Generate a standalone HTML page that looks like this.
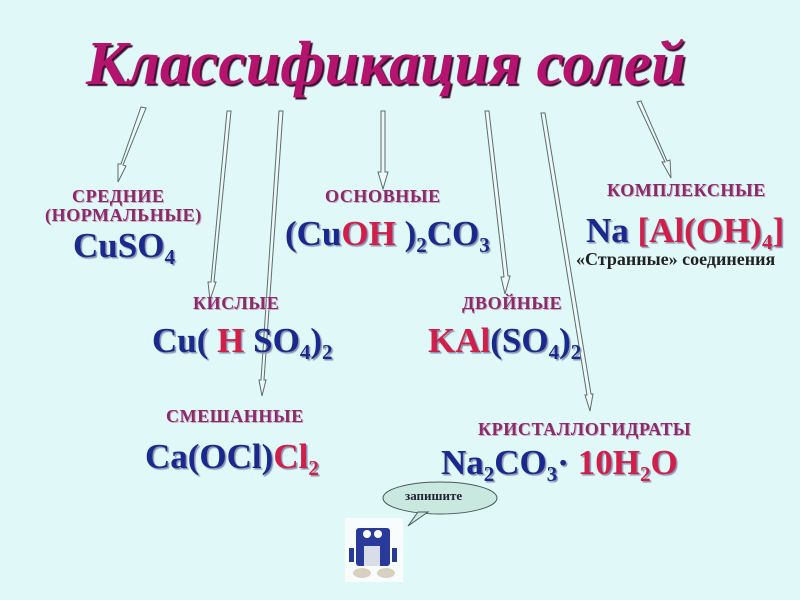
<!DOCTYPE html>
<html><head><meta charset="utf-8"><style>
body{margin:0;width:800px;height:600px;background:#e0f8f8;position:relative;overflow:hidden;font-family:"Liberation Serif",serif}
.t{position:absolute;white-space:nowrap}
.title{left:86px;top:29px;font-size:62px;font-style:italic;font-weight:bold;color:#b4146e;text-shadow:2px 2px 1px #3a1030}
.lb{font-size:18px;font-weight:bold;color:#8a2a6a;text-shadow:1px 1px 0 #c8a8c0;letter-spacing:0.6px}
.f{font-size:35px;font-weight:bold;color:#1a2a8c;text-shadow:1.5px 1.5px 1px #8890b0}
.r{color:#d0204a}
sub{font-size:21px;vertical-align:-7px}
</style></head><body>
<svg width="800" height="600" style="position:absolute;left:0;top:0">
<g fill="#eef8f8" stroke="#5a6e6a" stroke-width="1">
<polygon points="141,107 146,108 123,165 126,166 118,182 118,164 121,164"/>
<polygon points="227,111 231,111 214,282 216,282 210,300 208,282 211,282"/>
<polygon points="279,111 283,111 264,380 266,380 262,396 259,380 261,380"/>
<polygon points="381,111 385,111 385,172 388,172 383,189 378,172 381,172"/>
<polygon points="485,111 489,111 508,276 510,276 505,294 501,277 504,277"/>
<polygon points="541,113 545,113 591,394 593,394 590,411 585,395 587,395"/>
<polygon points="637,102 641,101 667,161 670,160 671,178 662,162 665,162"/>
</g>
<ellipse cx="440" cy="498" rx="57" ry="16" fill="#c8e8e0" stroke="#4a5a5a" stroke-width="1"/>
<polygon points="418,512 428,512 408,526" fill="#c8e8e0" stroke="#4a5a5a"/>
<rect x="345" y="518" width="58" height="64" fill="#f8fcfc"/>
<rect x="356" y="528" width="34" height="38" fill="#2a3a9a" rx="3"/>
<rect x="364" y="546" width="16" height="20" fill="#d8dde8"/>
<circle cx="367" cy="534" r="4" fill="#fff"/><circle cx="378" cy="534" r="4" fill="#fff"/>
<ellipse cx="362" cy="573" rx="9" ry="5" fill="#d8d0c0"/><ellipse cx="386" cy="573" rx="9" ry="5" fill="#d8d0c0"/>
<rect x="349" y="548" width="5" height="14" fill="#2a3a9a"/><rect x="392" y="548" width="5" height="14" fill="#2a3a9a"/>
</svg>
<div class="t" style="left:405px;top:488px;font-size:13px;font-weight:bold;color:#223">запишите</div>
<div class="t title">Классификация солей</div>
<div class="t lb" style="left:72px;top:186px">СРЕДНИЕ</div>
<div class="t lb" style="left:45px;top:205px">(НОРМАЛЬНЫЕ)</div>
<div class="t f" style="left:73px;top:226px">CuSO<sub>4</sub></div>
<div class="t lb" style="left:325px;top:186px">ОСНОВНЫЕ</div>
<div class="t f" style="left:285px;top:214px">(Cu<span class="r">OH</span> )<sub>2</sub>CO<sub>3</sub></div>
<div class="t lb" style="left:607px;top:180px">КОМПЛЕКСНЫЕ</div>
<div class="t f" style="left:586px;top:211px">Na <span class="r">[Al(OH)<sub>4</sub>]</span></div>
<div class="t" style="left:576px;top:249px;font-size:18px;font-weight:bold;color:#222">«Странные» соединения</div>
<div class="t lb" style="left:193px;top:293px">КИСЛЫЕ</div>
<div class="t f" style="left:152px;top:321px">Cu( <span class="r">H</span> SO<sub>4</sub>)<sub>2</sub></div>
<div class="t lb" style="left:462px;top:293px">ДВОЙНЫЕ</div>
<div class="t f" style="left:428px;top:321px"><span class="r">KAl</span>(SO<sub>4</sub>)<sub>2</sub></div>
<div class="t lb" style="left:166px;top:406px">СМЕШАННЫЕ</div>
<div class="t f" style="left:145px;top:437px">Ca(OCl)<span class="r">Cl<sub>2</sub></span></div>
<div class="t lb" style="left:478px;top:419px">КРИСТАЛЛОГИДРАТЫ</div>
<div class="t f" style="left:441px;top:443px">Na<sub>2</sub>CO<sub>3</sub>· <span class="r">10H<sub>2</sub>O</span></div>
</body></html>
